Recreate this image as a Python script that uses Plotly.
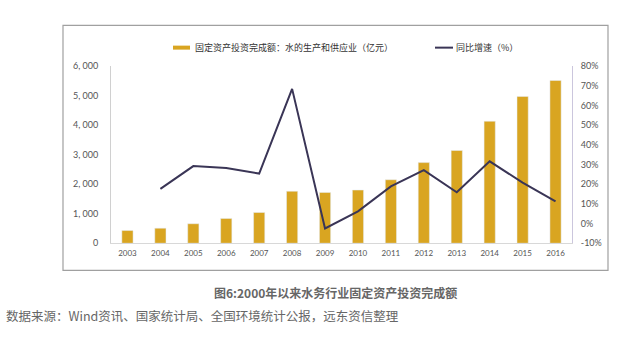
import plotly.graph_objects as go

years = [str(y) for y in range(2003, 2017)]
invest = [430, 510, 660, 840, 1040, 1760, 1720, 1800, 2150, 2730, 3140, 4130, 4970, 5510]
growth = [None, 17.6, 29.2, 28.2, 25.4, 68.4, -2.5, 6.2, 18.9, 27.1, 15.9, 31.6, 20.8, 11.3]

left_ticks = [0, 1000, 2000, 3000, 4000, 5000, 6000]
left_text = ["0", "1, 000", "2, 000", "3, 000", "4, 000", "5, 000", "6, 000"]
right_ticks = [-10, 0, 10, 20, 30, 40, 50, 60, 70, 80]
right_text = [f"{v}%" for v in right_ticks]

bar_name = "固定资产投资完成额：水的生产和供应业（亿元）"
line_name = "同比增速（%）"
title_text = "图6:2000年以来水务行业固定资产投资完成额"
source_text = "数据来源：Wind资讯、国家统计局、全国环境统计公报，远东资信整理"

BAR_C = "#D9A521"
LINE_C = "#3A3556"
W, H = 626, 347

def px(x):
    return x / W

def py(y):
    return (H - y) / H

fig = go.Figure()
fig.add_trace(go.Bar(x=years, y=invest, marker_color=BAR_C, width=0.34,
                     name=bar_name, showlegend=False))
fig.add_trace(go.Scatter(x=years, y=growth, yaxis="y2", mode="lines",
                         line=dict(color=LINE_C, width=2.0), name=line_name,
                         showlegend=False))

numfont = dict(family="Lato, DejaVu Sans, sans-serif", size=9, color="#555")

fig.update_layout(
    width=W, height=H,
    margin=dict(l=0, r=0, t=0, b=0),
    paper_bgcolor="white", plot_bgcolor="white",
    xaxis=dict(domain=[px(111), px(572)], showgrid=False, showline=True,
               linecolor="#d8d8d8", linewidth=1, ticks="",
               tickfont=dict(family="Lato, DejaVu Sans, sans-serif", size=8, color="#555"),
               anchor="y", ticklabelstandoff=2),
    yaxis=dict(domain=[py(245), py(62)], range=[0, 6000], showgrid=False,
               showline=True, linecolor="#d0d0d0", linewidth=1, ticks="",
               tickvals=left_ticks, ticktext=left_text, tickfont=numfont,
               zeroline=False, ticklabelstandoff=10),
    yaxis2=dict(overlaying="y", side="right", range=[-10, 80], showgrid=False,
                showline=True, linecolor="#cbc6dd", linewidth=1, ticks="",
                tickvals=right_ticks, ticktext=right_text, tickfont=numfont,
                zeroline=False, anchor="x", ticklabelstandoff=6),
    bargap=0.66,
    showlegend=False,
)

# outer frame
fig.add_shape(type="rect", xref="paper", yref="paper",
              x0=px(63), x1=px(608), y0=py(273), y1=py(20),
              line=dict(color="#a0a0a0", width=1.2), fillcolor="rgba(0,0,0,0)")

# manual legend
legfont = dict(family="Noto Sans CJK SC, sans-serif", size=9, color="#333")
fig.add_shape(type="line", xref="paper", yref="paper",
              x0=px(173), x1=px(190), y0=py(43), y1=py(43),
              line=dict(color=BAR_C, width=4))
fig.add_annotation(xref="paper", yref="paper", x=px(193), y=py(43),
                   text=bar_name, showarrow=False, xanchor="left",
                   yanchor="middle", font=legfont)
fig.add_shape(type="line", xref="paper", yref="paper",
              x0=px(435), x1=px(453), y0=py(43), y1=py(43),
              line=dict(color=LINE_C, width=2))
fig.add_annotation(xref="paper", yref="paper", x=px(454), y=py(43),
                   text=line_name, showarrow=False, xanchor="left",
                   yanchor="middle", font=legfont)

# caption and source
fig.add_annotation(xref="paper", yref="paper", x=px(335), y=py(296),
                   text="<b>" + title_text + "</b>", showarrow=False,
                   xanchor="center", yanchor="middle",
                   font=dict(family="Noto Sans CJK SC, sans-serif", size=12, color="#666"))
fig.add_annotation(xref="paper", yref="paper", x=px(4), y=py(320),
                   text=source_text, showarrow=False,
                   xanchor="left", yanchor="middle",
                   font=dict(family="Noto Sans CJK SC, sans-serif", size=12.5, color="#666"))

fig.write_html("out.html")
